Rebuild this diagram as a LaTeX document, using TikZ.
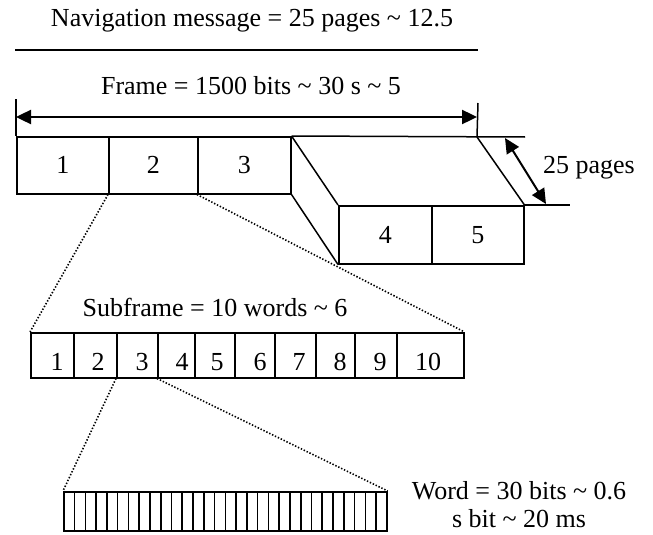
\documentclass[tikz,border=0pt]{standalone}
\usepackage{fontspec}
\setmainfont{Liberation Serif}
\usetikzlibrary{arrows.meta}

\begin{document}
\begin{tikzpicture}[x=1pt, y=-1pt, font=\fontsize{26}{30}\selectfont,
		box/.style={draw, line width=1.5pt, inner sep=0pt, anchor=north west},
		bitbox/.style={draw, line width=1.6pt, inner sep=0pt, anchor=north west, minimum width=10.77pt, minimum height=39pt},
		zoomline/.style={line width=1.6pt, dash pattern=on 1.4pt off 1.8pt},
		span/.style={line width=2.4pt, {Triangle[length=15pt, width=14pt]}-{Triangle[length=15pt, width=14pt]}},
		txt/.style={anchor=base, inner sep=0pt}]
	\useasboundingbox (0,0) rectangle (653,535);

	\node[txt] (title) at (252,27) {Navigation message = 25 pages \textasciitilde{} 12.5};
	\coordinate (ruleL) at (15,50);
	\coordinate (ruleR) at (478,50);
	\draw[line width=1.5pt] (ruleL) -- (ruleR);

	\node[txt] (frame) at (251,95) {Frame = 1500 bits \textasciitilde{} 30 s \textasciitilde{} 5};
	\node[box, minimum width=92pt, minimum height=57pt] (p1) at (16,136) {1};
	\node[box, minimum width=89pt, minimum height=57pt] (p2) at (108,136) {2};
	\node[box, minimum width=93pt, minimum height=57pt] (p3) at (197,136) {3};
	\node[box, minimum width=93pt, minimum height=58pt] (p4) at (338,205) {4};
	\node[box, minimum width=92pt, minimum height=58pt] (p5) at (431,205) {5};

	\coordinate (tickL) at (16,99);
	\coordinate (tickR) at (478,103);
	\coordinate (backC) at (477,137);
	\coordinate (backR) at (525,137);
	\coordinate (frontR) at (570,205);
	\coordinate (arrL) at (16,117);
	\coordinate (arrR) at (477,117);
	\coordinate (deepT) at (505,138);
	\coordinate (deepB) at (546,204);

	\draw[line width=1.5pt] (tickL) -- (p1.north west);
	\draw[line width=1.5pt] (tickR) -- (backC);
	\draw[span] (arrL) -- (arrR);
	\draw[line width=1.5pt] (p3.north east) -- (backR);
	\draw[line width=1.5pt] (p3.north east) -- (p4.north west);
	\draw[line width=1.5pt] (p3.south east) -- (p4.south west);
	\draw[line width=1.5pt] (backC) -- (p5.north east);
	\draw[line width=1.5pt] (p5.north east) -- (frontR);
	\draw[span, line width=2pt] (deepT) -- (deepB);
	\node[txt] (pages) at (589,173) {25 pages};

	\node[txt] (subframe) at (215,316) {Subframe = 10 words \textasciitilde{} 6};
	\foreach \i/\l/\r/\c in {1/30/73/57, 2/73/116/98, 3/116/157/142, 4/157/194/182, 5/194/234/217,
			6/234/274/260, 7/274/315/299, 8/315/354/340, 9/354/396/380, 10/396/463/428}
	{
		\node[box, minimum width={(\r-\l)*1pt}, minimum height=45pt] (w\i) at (\l,332) {};
		\node[txt] (w\i-num) at (\c,370) {\i};
	}

	\foreach \i in {1,...,30}
		\node[bitbox] (b\i) at ({63+(\i-1)*10.77},491) {};

	\node[txt] (word) at (519,499) {Word = 30 bits \textasciitilde{} 0.6};
	\node[txt] (bit) at (519,527) {s bit \textasciitilde{} 20 ms};

	\draw[zoomline] (p2.south west) -- (w1.north west);
	\draw[zoomline] (p3.south west) -- (w10.north east);
	\draw[zoomline] (w3.south west) -- (b1.north west);
	\draw[zoomline] (w4.south west) -- (b30.north east);
\end{tikzpicture}
\end{document}
